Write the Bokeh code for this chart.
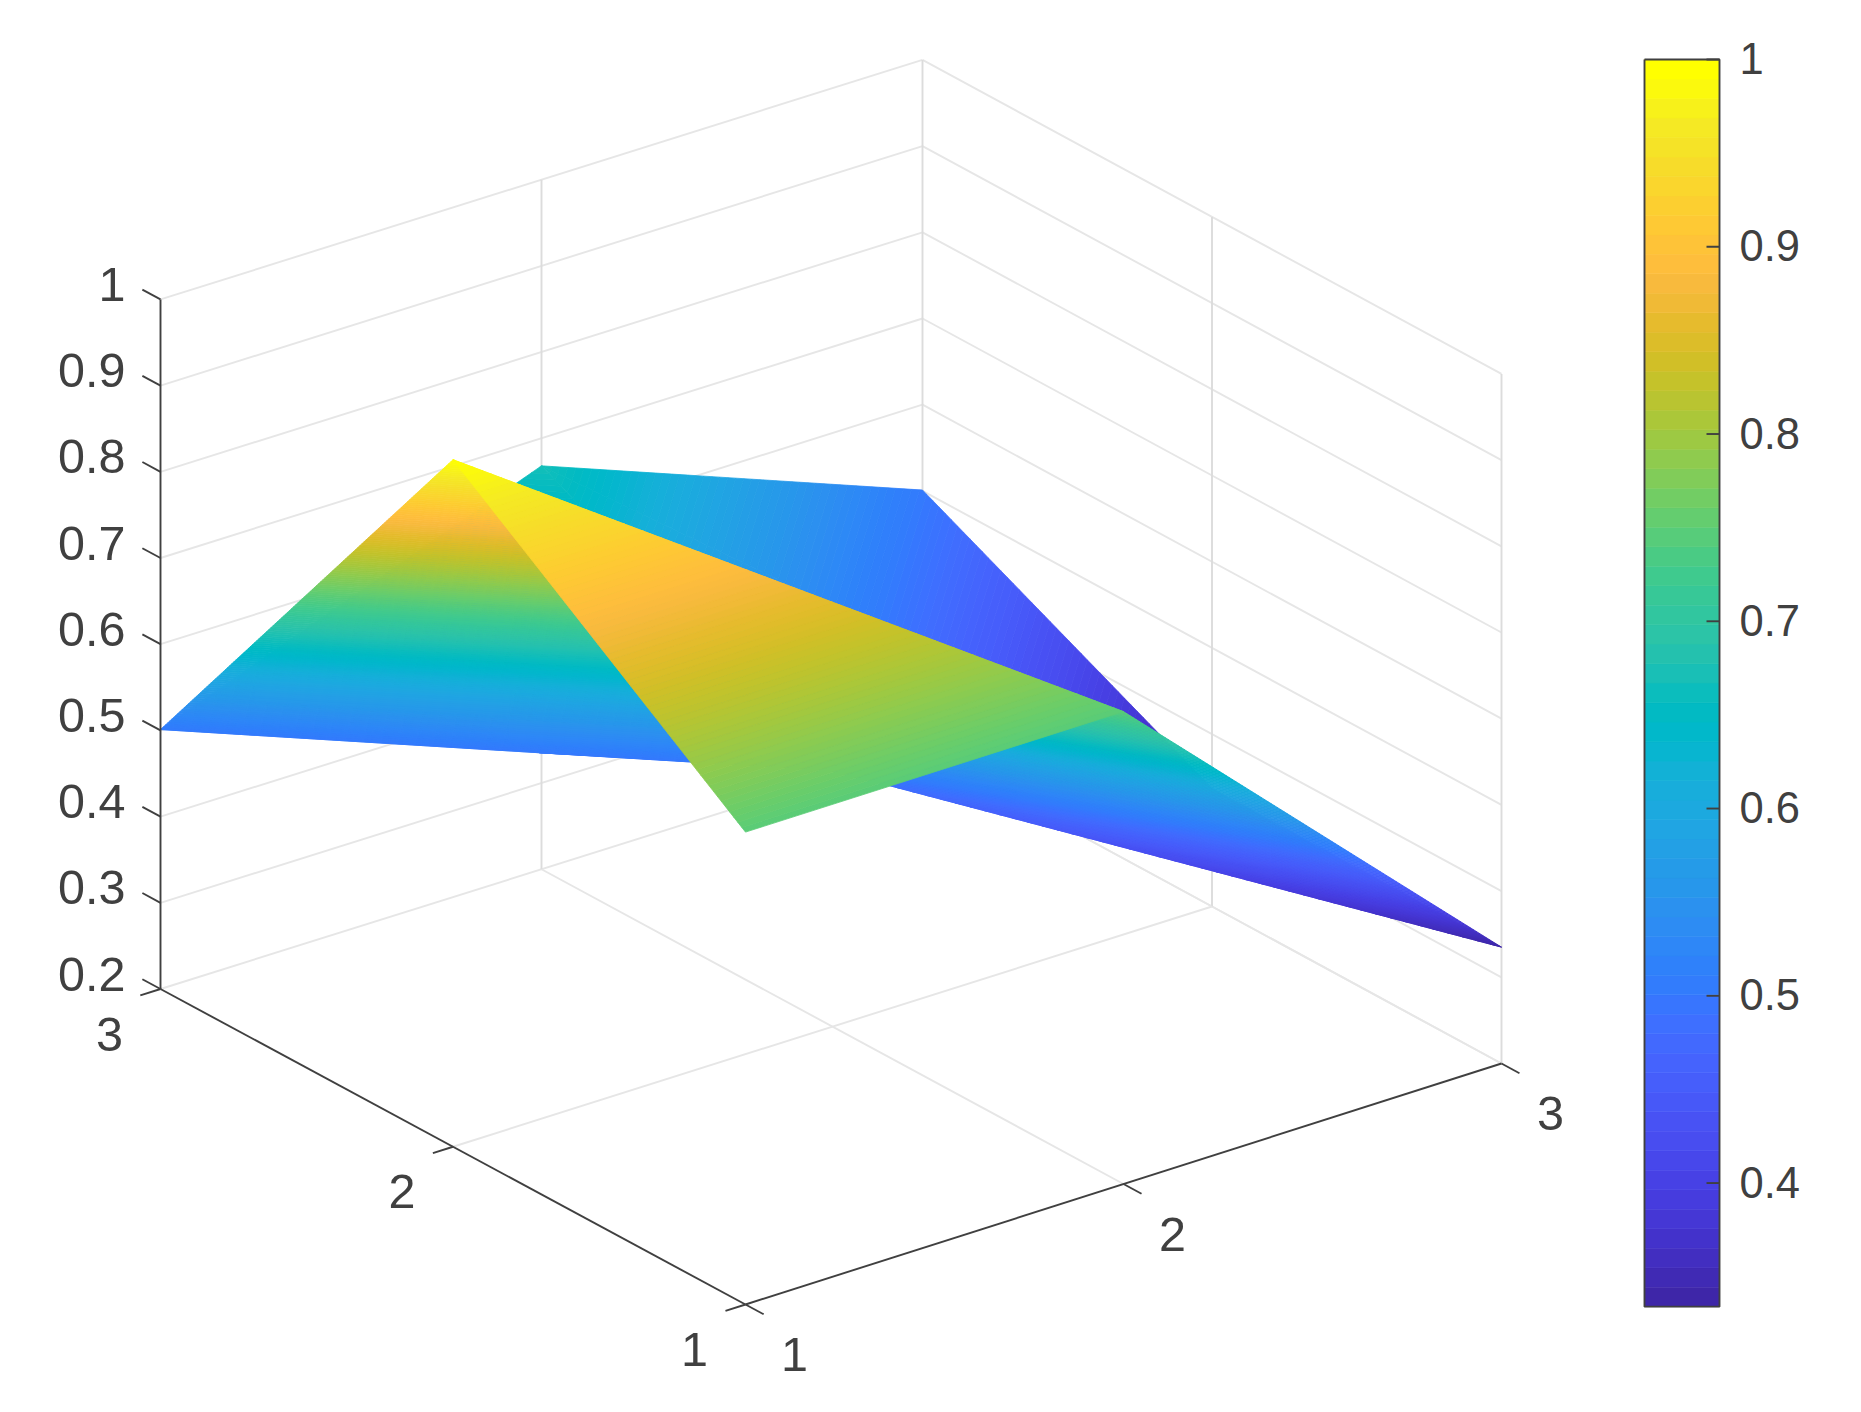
from bokeh.plotting import figure
from bokeh.embed import file_html
from bokeh.resources import INLINE
from bokeh.core.properties import value
from bokeh.models import Range1d

# ---- data -----------------------------------------------------------------
U_TICKS = [1, 2, 3]
V_TICKS = [1, 2, 3]
Z_TICKS = [0.2, 0.3, 0.4, 0.5, 0.6, 0.7, 0.8, 0.9, 1.0]
Z_LABELS = ["0.2", "0.3", "0.4", "0.5", "0.6", "0.7", "0.8", "0.9", "1"]
CB_TICKS = [0.4, 0.5, 0.6, 0.7, 0.8, 0.9, 1.0]
CB_LABELS = ["0.4", "0.5", "0.6", "0.7", "0.8", "0.9", "1"]
# surface heights, row = v (1..3), column = u (1..3)
Z_V1 = [0.748, 0.748, 0.335]
Z_V2 = [0.997, 0.497, 0.337]
Z_V3 = [0.501, 0.668, 0.501]
Z = [Z_V1, Z_V2, Z_V3]
# triangles of the surface, (u, v) vertices, back to front
TRIS = [
    ((2, 3), (3, 3), (3, 2)),
    ((2, 3), (3, 2), (2, 2)),
    ((2, 2), (3, 1), (3, 2)),
    ((1, 3), (2, 3), (2, 2)),
    ((2, 1), (2, 2), (1, 2)),
    ((1, 3), (1, 2), (2, 2)),
    ((2, 1), (3, 1), (2, 2)),
    ((1, 1), (2, 1), (1, 2)),
]
CLIM = (0.334, 1.0)
PARULA = [
    (0.2422,0.1504,0.6603),(0.2504,0.1650,0.7076),(0.2578,0.1818,0.7511),(0.2647,0.1978,0.7952),
    (0.2706,0.2147,0.8364),(0.2751,0.2342,0.8710),(0.2783,0.2559,0.8991),(0.2803,0.2782,0.9221),
    (0.2813,0.3006,0.9414),(0.2810,0.3228,0.9579),(0.2795,0.3447,0.9717),(0.2760,0.3667,0.9829),
    (0.2699,0.3892,0.9906),(0.2602,0.4123,0.9952),(0.2440,0.4358,0.9988),(0.2206,0.4603,0.9973),
    (0.1963,0.4847,0.9892),(0.1834,0.5074,0.9798),(0.1786,0.5289,0.9682),(0.1764,0.5499,0.9520),
    (0.1687,0.5703,0.9359),(0.1540,0.5902,0.9218),(0.1460,0.6091,0.9079),(0.1380,0.6276,0.8973),
    (0.1248,0.6459,0.8883),(0.1113,0.6635,0.8763),(0.0952,0.6798,0.8598),(0.0689,0.6948,0.8394),
    (0.0297,0.7082,0.8163),(0.0036,0.7203,0.7917),(0.0067,0.7312,0.7660),(0.0433,0.7411,0.7394),
    (0.0964,0.7500,0.7120),(0.1408,0.7584,0.6842),(0.1717,0.7670,0.6554),(0.1938,0.7758,0.6251),
    (0.2161,0.7843,0.5923),(0.2470,0.7918,0.5567),(0.2906,0.7973,0.5188),(0.3406,0.8008,0.4789),
    (0.3909,0.8029,0.4354),(0.4456,0.8024,0.3909),(0.5044,0.7993,0.3480),(0.5616,0.7942,0.3045),
    (0.6174,0.7876,0.2612),(0.6720,0.7793,0.2227),(0.7242,0.7698,0.1910),(0.7738,0.7598,0.1646),
    (0.8203,0.7498,0.1535),(0.8634,0.7406,0.1596),(0.9035,0.7330,0.1774),(0.9393,0.7288,0.2100),
    (0.9728,0.7298,0.2394),(0.9956,0.7434,0.2371),(0.9970,0.7659,0.2199),(0.9952,0.7893,0.2028),
    (0.9892,0.8136,0.1885),(0.9786,0.8386,0.1766),(0.9676,0.8639,0.1643),(0.9610,0.8890,0.1537),
    (0.9597,0.9135,0.1423),(0.9700,0.9450,0.1000),(0.9850,0.9750,0.0500),(1.0000,1.0000,0.0000),
]

# ---- view: picture pixels of the 3-D box ----------------------------------
W, H = 1845, 1396
FLOOR_F = (745.0, 1304.0)   # u=1, v=1
FLOOR_R = (1501.0, 1063.0)  # u=3, v=1
FLOOR_L = (160.0, 988.5)    # u=1, v=3
FLOOR_B = (922.0, 749.0)    # u=3, v=3
ZY = -862.0                 # per unit of z
CB_X0, CB_X1 = 1644.0, 1719.0
CB_Y_TOP, CB_PER_UNIT = 59.0, 1872.6
INK = "#404040"
GRID = "#e6e6e6"
GRID_UP = "#dcdcdc"
FONT = "Liberation Sans"
LW = 1.9


def proj(u, v, z=0.2):
    a, b = (u - 1) / 2, (v - 1) / 2
    px = [(1 - a) * (1 - b) * FLOOR_F[k] + a * (1 - b) * FLOOR_R[k]
          + (1 - a) * b * FLOOR_L[k] + a * b * FLOOR_B[k] for k in (0, 1)]
    return px[0], px[1] + (z - 0.2) * ZY


def cb_y(val):
    return CB_Y_TOP + (CLIM[1] - val) * CB_PER_UNIT


def hexcol(c):
    return "#%02x%02x%02x" % tuple(int(round(x * 255)) for x in c)


COLORS = [hexcol(c) for c in PARULA]
# finer shading on the surface: each colour level is split in three
FINE = []
for i in range(len(PARULA) - 1):
    for f in (0.0, 1 / 3, 2 / 3):
        FINE.append(hexcol(tuple(PARULA[i][k] + f * (PARULA[i + 1][k] - PARULA[i][k]) for k in range(3))))
FINE.append(COLORS[-1])


def clip(poly, level, keep_above):
    out = []
    for i in range(len(poly)):
        a, b = poly[i], poly[(i + 1) % len(poly)]
        ina = (a[2] >= level) if keep_above else (a[2] <= level)
        inb = (b[2] >= level) if keep_above else (b[2] <= level)
        if ina:
            out.append(a)
        if ina != inb:
            t = (level - a[2]) / (b[2] - a[2])
            out.append(tuple(a[k] + t * (b[k] - a[k]) for k in range(3)))
    return out


p = figure(width=W, height=H, output_backend="svg", toolbar_location=None,
           x_range=Range1d(0, W), y_range=Range1d(H, 0), min_border=0,
           outline_line_color=None, background_fill_color="white")
p.axis.visible = False
p.grid.visible = False


def seg(a, b, color, width):
    p.line([a[0], b[0]], [a[1], b[1]], line_color=color, line_width=width)


# ---- back walls and floor grid ---------------------------------------------
ZMIN, ZMAX = Z_TICKS[0], Z_TICKS[-1]
for z in Z_TICKS:
    seg(proj(1, 3, z), proj(3, 3, z), GRID, LW)
    seg(proj(3, 3, z), proj(3, 1, z), GRID, LW)
for u in U_TICKS[1:]:
    seg(proj(u, 3, ZMIN), proj(u, 3, ZMAX), GRID_UP, LW)
    seg(proj(u, 1, ZMIN), proj(u, 3, ZMIN), GRID, LW)
for v in V_TICKS[:2]:
    seg(proj(3, v, ZMIN), proj(3, v, ZMAX), GRID_UP, LW)
for v in V_TICKS[1:2]:
    seg(proj(1, v, ZMIN), proj(3, v, ZMIN), GRID, LW)

# ---- surface, as one polygon per colour level ------------------------------
xs, ys, cols = [], [], []
n = len(FINE)
step = (CLIM[1] - CLIM[0]) / n
for tri in TRIS:
    poly = [(u, v, Z[v - 1][u - 1]) for u, v in tri]
    for i in range(n):
        lo, hi = CLIM[0] + i * step, CLIM[0] + (i + 1) * step
        q = poly
        if i > 0:
            q = clip(q, lo, True)
        if q and i < n - 1:
            q = clip(q, hi, False)
        if len(q) >= 3:
            pts = [proj(a, b, c) for a, b, c in q]
            xs.append([pt[0] for pt in pts])
            ys.append([pt[1] for pt in pts])
            cols.append(FINE[i])
p.patches(xs, ys, fill_color=cols, line_color=cols, line_width=0.8)

# ---- axes ------------------------------------------------------------------
seg(proj(1, 3, ZMIN), proj(1, 3, ZMAX), INK, LW)
seg(proj(1, 3, ZMIN), proj(1, 1, ZMIN), INK, LW)
seg(proj(1, 1, ZMIN), proj(3, 1, ZMIN), INK, LW)
TICK_U, TICK_V = 0.053, 0.062
for z in Z_TICKS:
    seg(proj(1, 3, z), proj(1, 3 + TICK_V, z), INK, LW)
for v in V_TICKS:
    seg(proj(1, v), proj(1 - TICK_U, v), INK, LW)
for u in U_TICKS:
    seg(proj(u, 1), proj(u, 1 - TICK_V), INK, LW)

TEXT = dict(text_color=INK, text_font=value(FONT), text_font_size="48.5px",
            text_baseline="middle")
zp = [proj(1, 3, z) for z in Z_TICKS]
p.text([a[0] - 35 for a in zp], [a[1] - 15 for a in zp], text=Z_LABELS,
       text_align="right", **TEXT)
vp = [proj(1, v) for v in V_TICKS]
p.text([a[0] - 51 for a in vp], [a[1] + 45 for a in vp], text=[str(v) for v in V_TICKS],
       text_align="center", **TEXT)
up = [proj(u, 1) for u in U_TICKS]
p.text([a[0] + 49 for a in up], [a[1] + 50 for a in up], text=[str(u) for u in U_TICKS],
       text_align="center", **TEXT)

# ---- colour bar ------------------------------------------------------------
m = len(COLORS)
edges = [CLIM[0] + i * (CLIM[1] - CLIM[0]) / m for i in range(m + 1)]
p.quad(left=CB_X0, right=CB_X1, top=[cb_y(e) for e in edges[1:]],
       bottom=[cb_y(e) for e in edges[:-1]], fill_color=COLORS, line_color=COLORS, line_width=0.6)
box_x = [CB_X0, CB_X1, CB_X1, CB_X0, CB_X0]
box_y = [cb_y(CLIM[1]), cb_y(CLIM[1]), cb_y(CLIM[0]), cb_y(CLIM[0]), cb_y(CLIM[1])]
p.line(box_x, box_y, line_color=INK, line_width=LW)
for t in CB_TICKS:
    p.line([CB_X1 - 13, CB_X1], [cb_y(t), cb_y(t)], line_color=INK, line_width=LW)
p.text([CB_X1 + 20] * len(CB_TICKS), [cb_y(t) - 1 for t in CB_TICKS], text=CB_LABELS,
       text_align="left", text_color=INK, text_font=value(FONT), text_font_size="43.5px",
       text_baseline="middle")

open("out.html", "w").write(file_html(p, INLINE))
